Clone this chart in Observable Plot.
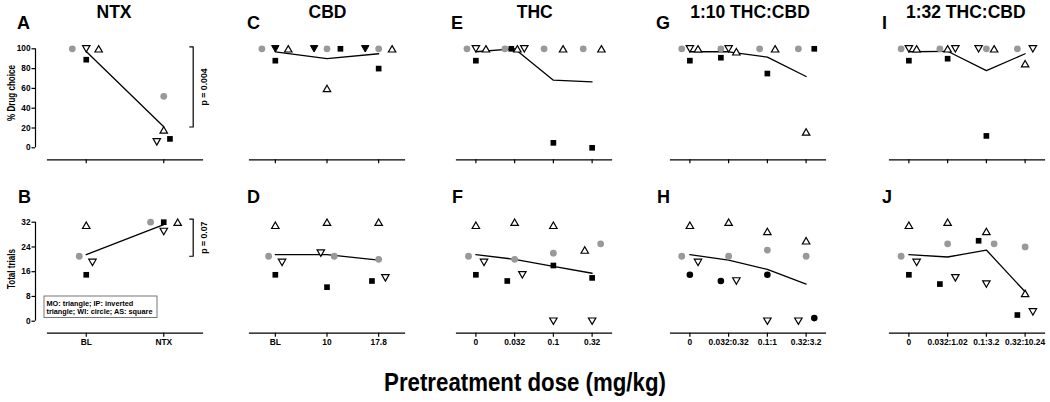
<!DOCTYPE html>
<html>
<head>
<meta charset="utf-8">
<script src="https://cdn.jsdelivr.net/npm/d3@7"></script>
<script src="https://cdn.jsdelivr.net/npm/@observablehq/plot@0.6"></script>
<style>
  body { margin: 0; background: #fff; }
  #fig { position: relative; width: 1050px; height: 402px; overflow: hidden; background: #fff;
         font-family: "Liberation Sans", Arial, Helvetica, sans-serif; }
  #fig svg { position: absolute; }
</style>
</head>
<body>
<div id="fig"></div>
<script>
// ---------------- DATA ----------------
// subjects: MO (triangle), IP (inverted triangle), WI (grey circle), AS (black square)
const choiceTicks = [0, 20, 40, 60, 80, 100];
const trialTicks = [0, 8, 16, 24, 32];

// NTX
const ntxLabels = ["BL", "NTX"];
const ntxChoice = { MO: [100, 18], IP: [100, 6], WI: [100, 52], AS: [89, 9] };
const ntxChoiceSpread = { MO: [0.16, 0], IP: [0, -0.09], WI: [-0.18, 0], AS: [0, 0.08] };
const ntxTrials = { MO: [31, 32], IP: [19, 29], WI: [21, 32], AS: [15, 32] };
const ntxTrialsSpread = { MO: [0, 0.18], IP: [0.08, 0], WI: [-0.09, -0.17], AS: [0, 0] };
const ntxChoiceP = { text: "p = 0.004", from: 21, to: 102 };
const ntxTrialsP = { text: "p = 0.07", from: 21, to: 33 };

// CBD
const cbdLabels = ["BL", "10", "17.8"];
const cbdChoice = { MO: [100, 60, 100], IP: [100, 100, 100], WI: [100, 100, 100], AS: [88, 100, 80] };
const cbdChoiceSpread = { MO: [0.25, 0, 0.26], IP: [0, -0.25, -0.26], WI: [-0.26, 0, 0], AS: [0, 0.26, 0] };
const cbdTrials = { MO: [31, 32, 32], IP: [19, 22, 14], WI: [21, 21, 20], AS: [15, 11, 13] };
const cbdTrialsSpread = { MO: [0, 0, 0], IP: [0.13, -0.12, 0.13], WI: [-0.13, 0.14, 0], AS: [0, 0, -0.13] };

// THC
const thcLabels = ["0", "0.032", "0.1", "0.32"];
const thcChoice = { MO: [100, 100, 100, 100], IP: [100, 100, null, null], WI: [100, 100, 100, 100], AS: [88, 100, 5, 0] };
const thcChoiceSpread = { MO: [0.26, 0.07, 0.25, 0.24], IP: [0, 0.25, 0, 0], WI: [-0.23, -0.25, -0.24, -0.23], AS: [0, -0.085, 0, 0] };
const thcTrials = { MO: [31, 32, 31, 23], IP: [19, 15, 0, 0], WI: [21, 20, 22, 25], AS: [15, 13, 18, 14] };
const thcTrialsSpread = { MO: [0, 0, 0, -0.19], IP: [0.21, 0.2, 0, 0], WI: [-0.19, 0, 0, 0.22], AS: [0, -0.19, 0, 0] };

// 1:10 THC:CBD
const r10Labels = ["0", "0.032:0.32", "0.1:1", "0.32:3.2"];
const r10Choice = { MO: [100, 97, 100, 16], IP: [100, 100, null, null], WI: [100, 100, 100, 100], AS: [88, 91, 75, 100] };
const r10ChoiceSpread = { MO: [0.21, 0.2, 0.2, 0], IP: [0, 0, 0, 0], WI: [-0.21, -0.2, -0.2, -0.2], AS: [0, -0.2, 0, 0.21] };
const r10Trials = { MO: [31, 32, 29, 26], IP: [19, 13, 0, 0], WI: [21, 21, 23, 21], AS: [15, 13, 15, 1] };
const r10TrialsSpread = { MO: [0, 0, 0, 0], IP: [0.21, 0.2, 0, -0.2], WI: [-0.21, 0, 0, 0], AS: [0, -0.2, 0, 0.21] };

// 1:32 THC:CBD
const r32Labels = ["0", "0.032:1.02", "0.1:3.2", "0.32:10.24"];
const r32Choice = { MO: [100, 100, 100, 85], IP: [100, 100, 100, 100], WI: [100, 100, 100, 100], AS: [88, 90, 12, null] };
const r32ChoiceSpread = { MO: [0.2, 0, 0.2, 0], IP: [0, 0.2, -0.2, 0.2], WI: [-0.2, -0.2, 0, -0.2], AS: [0, 0, 0, 0] };
const r32Trials = { MO: [31, 32, 29, 9], IP: [19, 14, 12, 3], WI: [21, 25, 25, 24], AS: [15, 12, 26, 2] };
const r32TrialsSpread = { MO: [0, 0, 0, 0], IP: [0.2, 0.2, 0, 0.2], WI: [-0.2, 0, 0.2, 0], AS: [0, -0.2, -0.2, -0.2] };

const titles = ["NTX", "CBD", "THC", "1:10 THC:CBD", "1:32 THC:CBD"];
const panelLetters = [["A", "B"], ["C", "D"], ["E", "F"], ["G", "H"], ["I", "J"]];
const yTitles = ["% Drug choice", "Total trials"];
const xTitle = "Pretreatment dose (mg/kg)";
const legendLines = ["MO: triangle; IP: inverted", "triangle; WI: circle; AS: square"];

// ---------------- LAYOUT / STYLE ----------------
const fig = document.getElementById("fig");
const FONT = '"Liberation Sans", Arial, Helvetica, sans-serif';

const AXW = 155;                       // x-axis length of every panel
const colX = [47, 249, 456, 670, 889]; // x-axis start of each column
const ML = 47, MR = 30;
const rows = {
  choice: { top: 0, height: 170, domain: [0, 100], range: [147.3, 48.3], frameBottom: 159.3, ticks: choiceTicks },
  trials: { top: 170, height: 190, domain: [0, 32], range: [150.7, 51.7], frameBottom: 162.7, ticks: trialTicks }
};
const subjects = ["WI", "IP", "AS", "MO"];

const triUp = { draw(ctx, size) { const L = 1.4 * Math.sqrt(size), h = 0.866 * L;
  ctx.moveTo(0, -h / 2); ctx.lineTo(L / 2, h / 2); ctx.lineTo(-L / 2, h / 2); ctx.closePath(); } };
const triDown = { draw(ctx, size) { const L = 1.4 * Math.sqrt(size), h = 0.866 * L;
  ctx.moveTo(0, h / 2); ctx.lineTo(L / 2, -h / 2); ctx.lineTo(-L / 2, -h / 2); ctx.closePath(); } };

const baseStyle = {
  MO: { symbol: triUp, fill: "white", stroke: "black", strokeWidth: 1.2, r: 3 },
  IP: { symbol: triDown, fill: "white", stroke: "black", strokeWidth: 1.2, r: 3 },
  WI: { symbol: "circle", fill: "#999999", r: 3.4 },
  AS: { symbol: "square", fill: "black", r: 3.2 }
};
// per-panel marker variants seen in the figure
const styleOverrides = {
  "1-choice": { IP: { symbol: triDown, fill: "black", stroke: "black", strokeWidth: 1, r: 3 } },
  "3-trials": { AS: { symbol: "circle", fill: "black", r: 3.3 } }
};

function drawPanel(col, rowKey, labels, values, spread, pval) {
  const R = rows[rowKey];
  const n = labels.length;
  const pts = [];
  for (const s of subjects) values[s].forEach((v, i) => { if (v != null) pts.push({ s, x: i + spread[s][i], y: v }); });
  const means = labels.map((_, i) => ({ x: i, y: d3.mean(subjects.map(s => values[s][i]).filter(v => v != null)) }));
  const ov = styleOverrides[`${col}-${rowKey}`] || {};
  const marks = [
    Plot.frame({ anchor: "bottom", stroke: "black", strokeWidth: 1.2 }),
    Plot.axisX({ ticks: d3.range(n), tickFormat: i => rowKey === "trials" ? labels[i] : "",
      tickSize: 4, tickPadding: 2, fontSize: 8.4, fontWeight: "bold", strokeWidth: 1.2, label: null })
  ];
  if (col === 0) {
    const t = R.ticks;
    marks.push(
      Plot.ruleX([-0.5], { y1: t[0], y2: t[t.length - 1], dx: -12, stroke: "black", strokeWidth: 1.2 }),
      Plot.axisY({ ticks: t, tickSize: 3.5, tickPadding: 1.5, dx: -12, fontSize: 8.3, fontWeight: "bold", strokeWidth: 1.2, label: null })
    );
  }
  marks.push(Plot.line(means, { x: "x", y: "y", stroke: "black", strokeWidth: 1.3 }));
  for (const s of subjects) {
    marks.push(Plot.dot(pts.filter(d => d.s === s), { x: "x", y: "y", ...baseStyle[s], ...(ov[s] || {}) }));
  }
  if (pval) {
    const bx = n - 1 + 0.38, tk = 0.045;
    marks.push(
      Plot.line([{ x: bx - tk, y: pval.to }, { x: bx, y: pval.to }, { x: bx, y: pval.from }, { x: bx - tk, y: pval.from }],
        { x: "x", y: "y", stroke: "black", strokeWidth: 1.2 }),
      Plot.text([pval.text], { x: bx, y: (pval.from + pval.to) / 2, rotate: -90, dx: 11,
        fontSize: 8.7, fontWeight: "bold", fill: "black" })
    );
  }
  const svg = Plot.plot({
    width: ML + AXW + MR, height: R.height,
    marginLeft: ML, marginRight: MR, marginTop: 20, marginBottom: R.height - R.frameBottom,
    x: { domain: [-0.5, n - 0.5] },
    y: { domain: R.domain, range: R.range, ...(col === 0 ? {} : { axis: null }) },
    style: { background: "transparent", overflow: "visible", fontFamily: FONT, fontWeight: "bold", color: "black" },
    marks
  });
  svg.style.left = (colX[col] - ML) + "px";
  svg.style.top = R.top + "px";
  fig.append(svg);
}

const panels = [
  [ntxLabels, ntxChoice, ntxChoiceSpread, ntxTrials, ntxTrialsSpread],
  [cbdLabels, cbdChoice, cbdChoiceSpread, cbdTrials, cbdTrialsSpread],
  [thcLabels, thcChoice, thcChoiceSpread, thcTrials, thcTrialsSpread],
  [r10Labels, r10Choice, r10ChoiceSpread, r10Trials, r10TrialsSpread],
  [r32Labels, r32Choice, r32ChoiceSpread, r32Trials, r32TrialsSpread]
];
panels.forEach(([labels, ch, chS, tr, trS], col) => {
  drawPanel(col, "choice", labels, ch, chS, col === 0 ? ntxChoiceP : null);
  drawPanel(col, "trials", labels, tr, trS, col === 0 ? ntxTrialsP : null);
});

// ---------------- ANNOTATIONS ----------------
const ann = d3.select(fig).append("svg").attr("width", 1050).attr("height", 402)
  .style("left", "0px").style("top", "0px").style("pointer-events", "none")
  .attr("font-family", FONT).attr("font-weight", "bold");
const titleX = [114, 327.5, 534.7, 750, 965.8];
titles.forEach((t, i) => ann.append("text").attr("x", titleX[i]).attr("y", 17.5).attr("text-anchor", "middle")
  .attr("font-size", 17.5).text(t));
const letterPos = [[17, 247, 451, 656, 882], [18, 247, 452, 657, 882]];
panelLetters.forEach((pair, i) => {
  ann.append("text").attr("x", letterPos[0][i]).attr("y", 28.5).attr("font-size", 18).text(pair[0]);
  ann.append("text").attr("x", letterPos[1][i]).attr("y", 202.5).attr("font-size", 18).text(pair[1]);
});
// y-axis titles (slightly condensed, like the original)
const yTitleY = [93, 269];
yTitles.forEach((t, i) => ann.append("text")
  .attr("transform", `translate(11,${yTitleY[i]}) rotate(-90) scale(0.76,1)`)
  .attr("text-anchor", "middle").attr("dominant-baseline", "central").attr("font-size", 10.6).text(t));
ann.append("text").attr("transform", "translate(525,391) scale(0.89,1)").attr("text-anchor", "middle")
  .attr("font-size", 25).text(xTitle);
ann.append("rect").attr("x", 44).attr("y", 296).attr("width", 113).attr("height", 21.5)
  .attr("fill", "white").attr("stroke", "#777").attr("stroke-width", 1);
legendLines.forEach((l, i) => ann.append("text").attr("x", 46.5).attr("y", 305.8 + i * 8.4)
  .attr("font-size", 7.3).text(l));
</script>
</body>
</html>
